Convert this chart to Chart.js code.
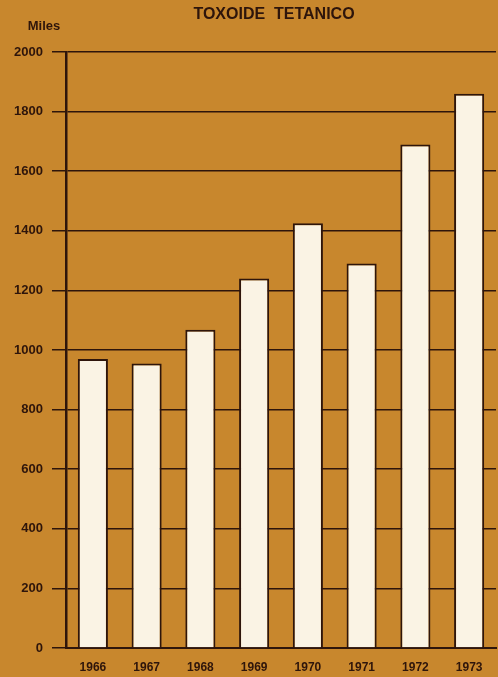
<!DOCTYPE html>
<html>
<head>
<meta charset="utf-8">
<script src="https://cdn.jsdelivr.net/npm/chart.js@4/dist/chart.umd.min.js"></script>
<style>
  html, body { margin: 0; padding: 0; background: #c8872d; }
  #wrap { width: 498px; height: 677px; }
</style>
</head>
<body>
<div id="wrap"><canvas id="c"></canvas></div>
<script>
// ---- Datos ----
const years  = ['1966', '1967', '1968', '1969', '1970', '1971', '1972', '1973'];
const values = [970, 955, 1068, 1240, 1425, 1290, 1690, 1860];
const yTicks = [0, 200, 400, 600, 800, 1000, 1200, 1400, 1600, 1800, 2000];

const INK = '#2e150b';
const BG  = '#c8872d';

// ---- Fondo y textos (titulo, unidad) ----
const decor = {
  id: 'decor',
  beforeDraw(chart) {
    const ctx = chart.ctx;
    ctx.save();
    ctx.fillStyle = BG;
    ctx.fillRect(0, 0, chart.width, chart.height);
    ctx.restore();
  },
  afterDraw(chart) {
    const ctx = chart.ctx;
    ctx.save();
    ctx.fillStyle = INK;
    ctx.textAlign = 'center';
    ctx.textBaseline = 'middle';
    ctx.font = 'bold 16px "Liberation Sans", Arial, sans-serif';
    ctx.fillText('TOXOIDE  TETANICO', 274, 15);
    ctx.font = 'bold 13px "Liberation Sans", Arial, sans-serif';
    ctx.fillText('Miles', 44, 26);
    ctx.restore();
  }
};

new Chart(document.getElementById('c'), {
  type: 'bar',
  data: {
    labels: years,
    datasets: [{
      data: values,
      backgroundColor: '#faf3e4',
      borderColor: INK,
      borderWidth: 2,
      borderSkipped: 'bottom',
      barPercentage: 0.56,
      categoryPercentage: 1
    }]
  },
  options: {
    responsive: true,
    maintainAspectRatio: false,
    animation: false,
    layout: { padding: { top: 52, right: 2, left: 0, bottom: 0 } },
    plugins: {
      legend: { display: false },
      tooltip: { enabled: false }
    },
    scales: {
      x: {
        grid: { display: false },
        border: { display: true, color: INK, width: 2 },
        ticks: {
          color: INK,
          padding: 4,
          font: { family: '"Liberation Sans", Arial, sans-serif', size: 12, weight: 'bold' }
        },
        afterFit(s) { s.height = 29; }
      },
      y: {
        min: 0,
        max: 2000,
        afterBuildTicks(s) { s.ticks = yTicks.map(v => ({ value: v })); },
        grid: {
          color: INK,
          lineWidth: 1.5,
          drawTicks: true,
          tickLength: 14,
          tickColor: INK
        },
        border: { display: true, color: INK, width: 2.5 },
        ticks: {
          color: INK,
          padding: 9,
          callback: v => String(v),
          font: { family: '"Liberation Sans", Arial, sans-serif', size: 13, weight: 'bold' }
        },
        afterFit(s) { s.width = 66; }
      }
    }
  },
  plugins: [decor]
});
</script>
</body>
</html>
